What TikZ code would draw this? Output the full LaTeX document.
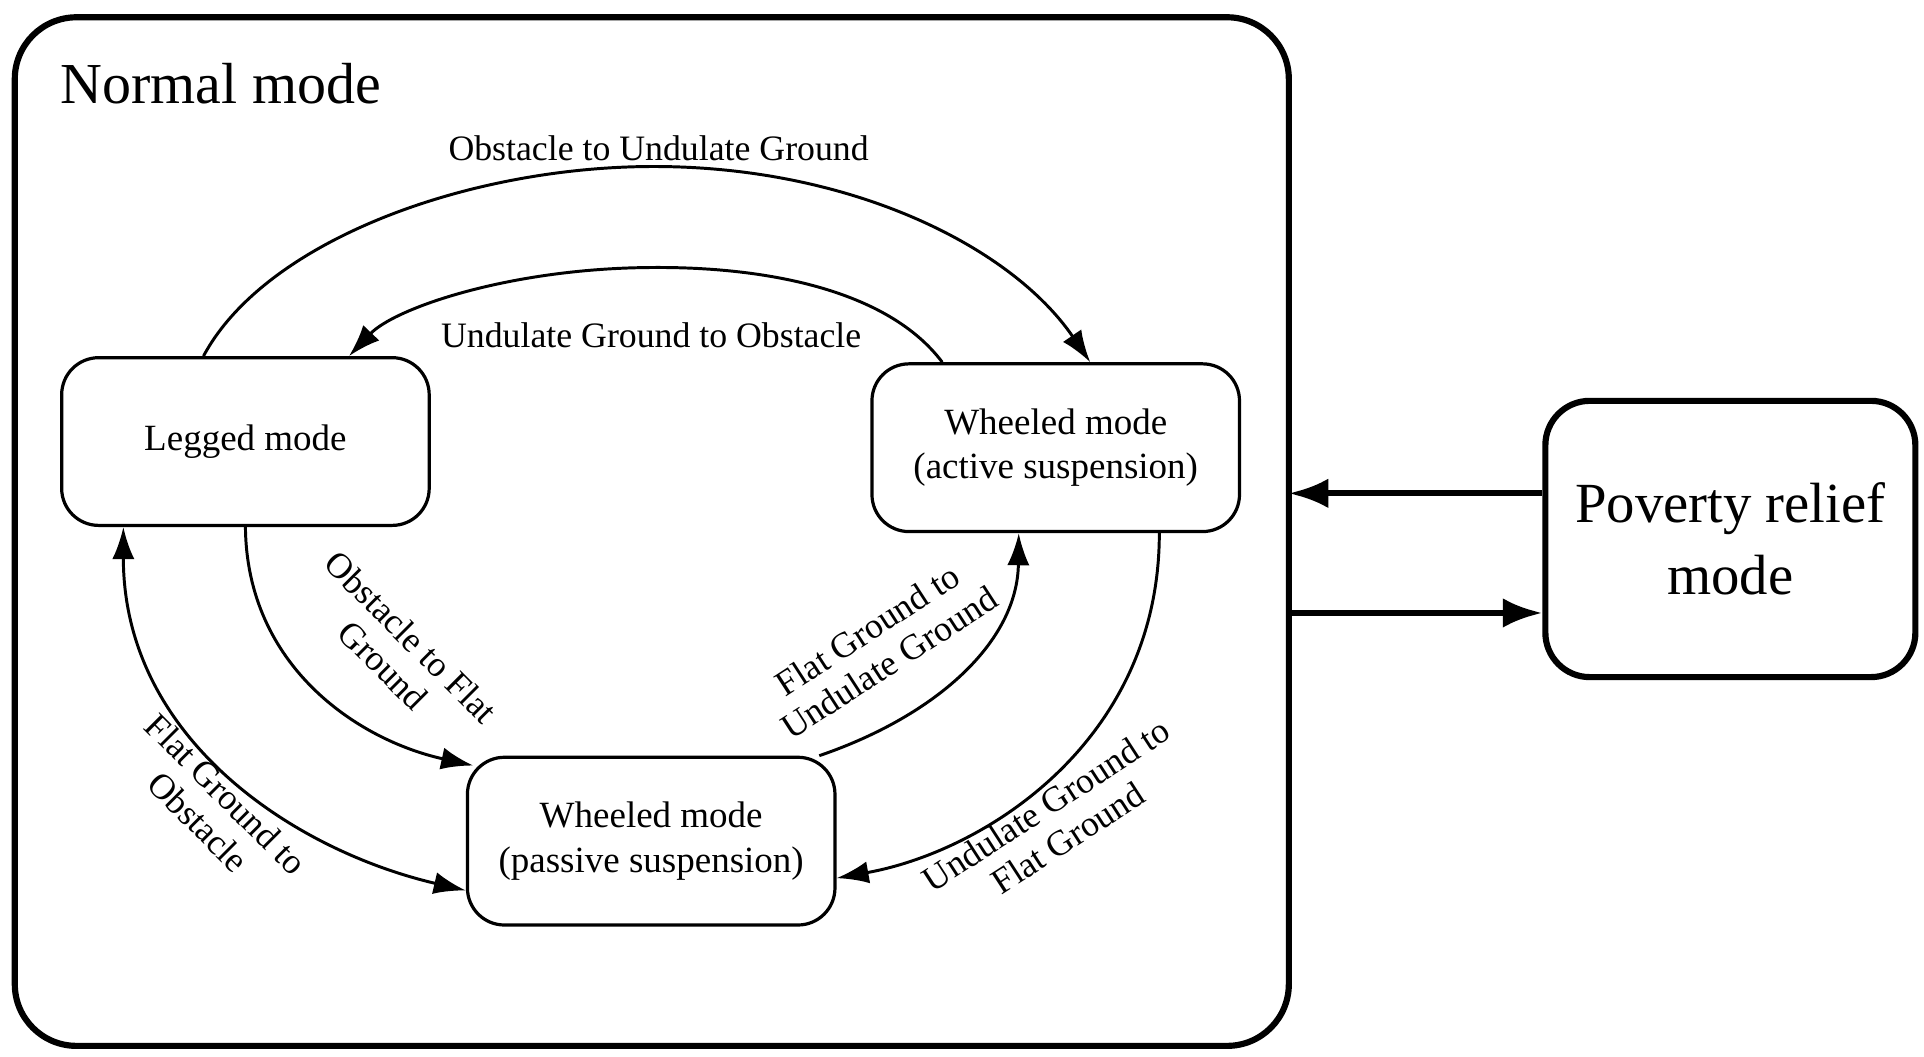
\documentclass[tikz,border=0pt]{standalone}
\usepackage{fontspec}
\setmainfont{Liberation Serif}
\usetikzlibrary{arrows.meta}
\begin{document}
\begin{tikzpicture}[x=0.5pt,y=-0.5pt,
  mode/.style={draw, line width=1.3pt, rounded corners=15pt, minimum width=149pt, minimum height=68pt, align=center, font=\fontsize{15}{18}\selectfont},
  trans/.style={line width=1.2pt, -{Latex[length=13pt,width=9pt]}},
  lbl/.style={font=\fontsize{14.5}{16}\selectfont, align=center}]
\useasboundingbox (0,0) rectangle (1560,857);
% outer boxes
\draw[line width=2.5pt, rounded corners=25pt] (12,14) rectangle (1045,848);
\node[anchor=west, font=\fontsize{23.5}{28}\selectfont] (title) at (42,68) {Normal mode};
\node[draw, line width=2.5pt, rounded corners=18pt, minimum width=150pt, minimum height=112pt, align=center, font=\fontsize{23}{29}\selectfont] (pov) at (1403,437) {Poverty relief\\mode};
\coordinate (nin) at (1045,400);
\coordinate (nout) at (1045,497);

% modes
\node[mode] (leg) at (199,358) {Legged mode};
\node[mode] (act) at (856,363) {Wheeled mode\\(active suspension)};
\node[mode] (pas) at (528,682) {Wheeled mode\\(passive suspension)};

% transitions
\draw[trans] ([xshift=-17pt]leg.north) .. controls (215,195) and (380,135) .. (530,135)
  .. controls (690,135) and (820,200) .. ([xshift=14pt]act.north);
\draw[trans] ([xshift=-46pt]act.north) .. controls (720,235) and (620,215) .. (520,217)
  .. controls (410,219) and (320,250) .. ([xshift=42pt]leg.north);
\draw[trans] (leg.south) .. controls (200,540) and (290,600) .. ([xshift=3pt,yshift=-4pt]pas.north west);
\draw[trans, {Latex[length=13pt,width=9pt]}-{Latex[length=13pt,width=9pt]}] ([xshift=-49.5pt]leg.south) .. controls (100,600) and (240,690) .. ([yshift=-20pt]pas.west);
\draw[trans] ([xshift=-7pt]pas.north east) .. controls (760,580) and (825,520) .. ([xshift=-15pt]act.south);
\draw[trans] ([xshift=42pt]act.south) .. controls (940,600) and (800,690) .. ([yshift=-15pt]pas.east);
\draw[line width=2.5pt, -{Latex[length=16pt,width=12pt]}] (pov.west |- nin) -- (nin);
\draw[line width=2.5pt, -{Latex[length=16pt,width=12pt]}] (nout) -- (pov.west |- nout);

% labels
\node[lbl] (l1) at (534,120) {Obstacle to Undulate Ground};
\node[lbl] (l2) at (528,272) {Undulate Ground to Obstacle};
\node[lbl, rotate=-45] (l3) at (322,528) {Obstacle to Flat\\Ground};
\node[lbl, rotate=-45] (l4) at (172,655) {Flat Ground to\\Obstacle};
\node[lbl, rotate=33] (l5) at (712,524) {Flat Ground to\\Undulate Ground};
\node[lbl, rotate=33] (l6) at (857,666) {Undulate Ground to\\Flat Ground};
\end{tikzpicture}
\end{document}
